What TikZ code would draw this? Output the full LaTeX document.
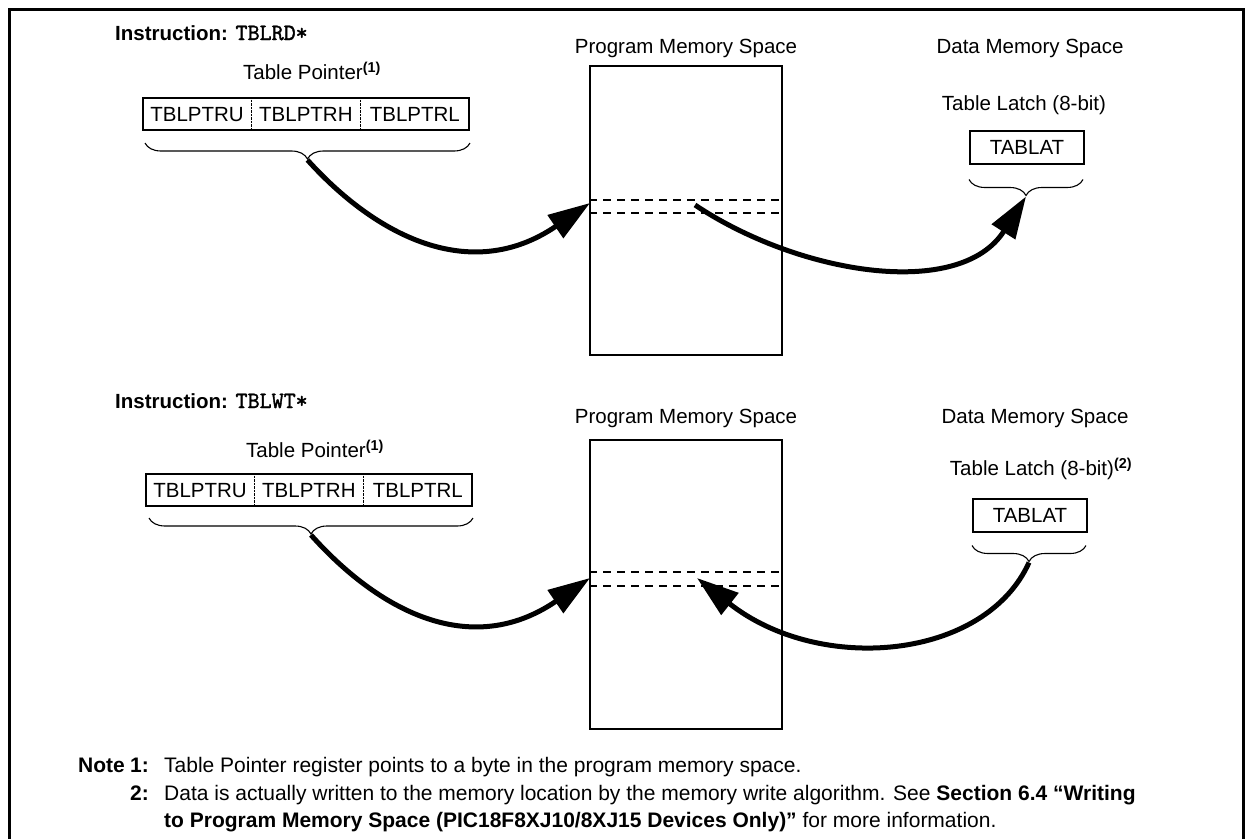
\documentclass[tikz,border=0pt]{standalone}
\usepackage{fontspec}
\setmainfont{Liberation Sans}
\setmonofont{Latin Modern Mono}[Scale=1.14,AutoFakeBold=1.6]
\usepackage{tikz}
\usetikzlibrary{positioning,arrows.meta,decorations.pathreplacing}
\definecolor{ink}{HTML}{000000}

\begin{document}
\begin{tikzpicture}[x=1pt,y=-1pt,node distance=0pt,
    lbl/.style={font=\fontsize{20.5}{24}\selectfont,inner sep=0pt},
    cell/.style={font=\fontsize{20.5}{24}\selectfont,text height=15pt,text depth=0pt,minimum width=108.5pt,minimum height=31pt,inner sep=0pt},
    memspace/.style={draw=ink,line width=2pt,minimum width=192pt,minimum height=289pt,inner sep=0pt},
    latch/.style={draw=ink,line width=2pt,font=\fontsize{20.5}{24}\selectfont,minimum width=114pt,minimum height=33pt,inner sep=0pt},
    bytebrace/.style={decorate,decoration={brace,mirror,amplitude=16pt},line width=1.1pt},
    byterow/.style={dash pattern=on 8pt off 6pt,line width=2pt},
    fetch/.style={line width=5pt,-{Triangle[length=42pt,width=27pt]}},
    note/.style={font=\fontsize{21}{25}\selectfont,anchor=base west,inner sep=0pt}]
  \useasboundingbox (0,0) rectangle (1252,839);
  \draw[line width=3pt] (9,839) -- (9,9) -- (1243,9) -- (1243,839);

  % TBLRD*
  \node[lbl,anchor=base west] (insA) at (115,40) {\textbf{Instruction:} {\ttfamily\bfseries TBLRD*}};
  \node[lbl] (tpA) at (312,71) {Table Pointer\textsuperscript{\textbf{(1)}}};
  \node[cell] (uA) at (197,114) {TBLPTRU};
  \node[cell,right=of uA] (hA) {TBLPTRH};
  \node[cell,right=of hA] (lA) {TBLPTRL};
  \draw[line width=2pt] (uA.north west) rectangle (lA.south east);
  \draw[densely dotted] (uA.north east) -- (uA.south east) (hA.north east) -- (hA.south east);
  \draw[bytebrace] (145,143) -- (470,143) coordinate[midway,yshift=-17pt] (ptrA);

  \node[lbl] (pmlA) at (686,48) {Program Memory Space};
  \node[memspace] (pmA) at (686,210) {};
  \draw[byterow] (pmA.west |- 0,200) -- (pmA.east |- 0,200) (pmA.west |- 0,213) -- (pmA.east |- 0,213);
  \coordinate (hitA) at (590,203);
  \coordinate (srcA) at (695,205);

  \node[lbl] (dmlA) at (1030,48) {Data Memory Space};
  \node[lbl] (tlA) at (1024,105) {Table Latch (8-bit)};
  \node[latch] (latA) at (1027,147) {TABLAT};
  \draw[bytebrace] (latA.south west) ++(0,15) -- ++(114,0) coordinate[midway,yshift=-17pt] (latchA);

  \draw[fetch] (ptrA) .. controls (375,235) and (470,285) .. (hitA);
  \draw[fetch] (srcA) .. controls (800,275) and (960,300) .. (latchA);

  % TBLWT*
  \node[lbl,anchor=base west] (insB) at (115,408) {\textbf{Instruction:} {\ttfamily\bfseries TBLWT*}};
  \node[lbl] (tpB) at (315,449) {Table Pointer\textsuperscript{\textbf{(1)}}};
  \node[cell] (uB) at (200,490) {TBLPTRU};
  \node[cell,right=of uB] (hB) {TBLPTRH};
  \node[cell,right=of hB] (lB) {TBLPTRL};
  \draw[line width=2pt] (uB.north west) rectangle (lB.south east);
  \draw[densely dotted] (uB.north east) -- (uB.south east) (hB.north east) -- (hB.south east);
  \draw[bytebrace] (149,518) -- (473,518) coordinate[midway,yshift=-17pt] (ptrB);

  \node[lbl] (pmlB) at (686,418) {Program Memory Space};
  \node[memspace] (pmB) at (686,584) {};
  \draw[byterow] (pmB.west |- 0,572) -- (pmB.east |- 0,572) (pmB.west |- 0,586) -- (pmB.east |- 0,586);
  \coordinate (hitB) at (590,578);
  \coordinate (dstB) at (697,578);

  \node[lbl] (dmlB) at (1035,418) {Data Memory Space};
  \node[lbl] (tlB) at (1041,469) {Table Latch (8-bit)\textsuperscript{\textbf{(2)}}};
  \node[latch] (latB) at (1030,515) {TABLAT};
  \draw[bytebrace] (latB.south west) ++(0,13) -- ++(114,0) coordinate[midway,yshift=-17pt] (latchB);

  \draw[fetch] (ptrB) .. controls (378,610) and (470,660) .. (hitB);
  \draw[fetch] (latchB) .. controls (985,660) and (820,675) .. (dstB);

  % notes
  \node[note,anchor=base east] (nt) at (125,772) {\textbf{Note}};
  \node[note,anchor=base east] (n1no) at (149,772) {\textbf{1:}};
  \node[note] (n1) at (164,772) {Table Pointer register points to a byte in the program memory space.};
  \node[note,anchor=base east] (n2no) at (149,800) {\textbf{2:}};
  \node[note] (n2) at (164,800) {Data is actually written to the memory location by the memory write algorithm. See \textbf{Section 6.4 “Writing}};
  \node[note] (n3) at (164,827) {\textbf{to Program Memory Space (PIC18F8XJ10/8XJ15 Devices Only)”} for more information.};
\end{tikzpicture}
\end{document}
